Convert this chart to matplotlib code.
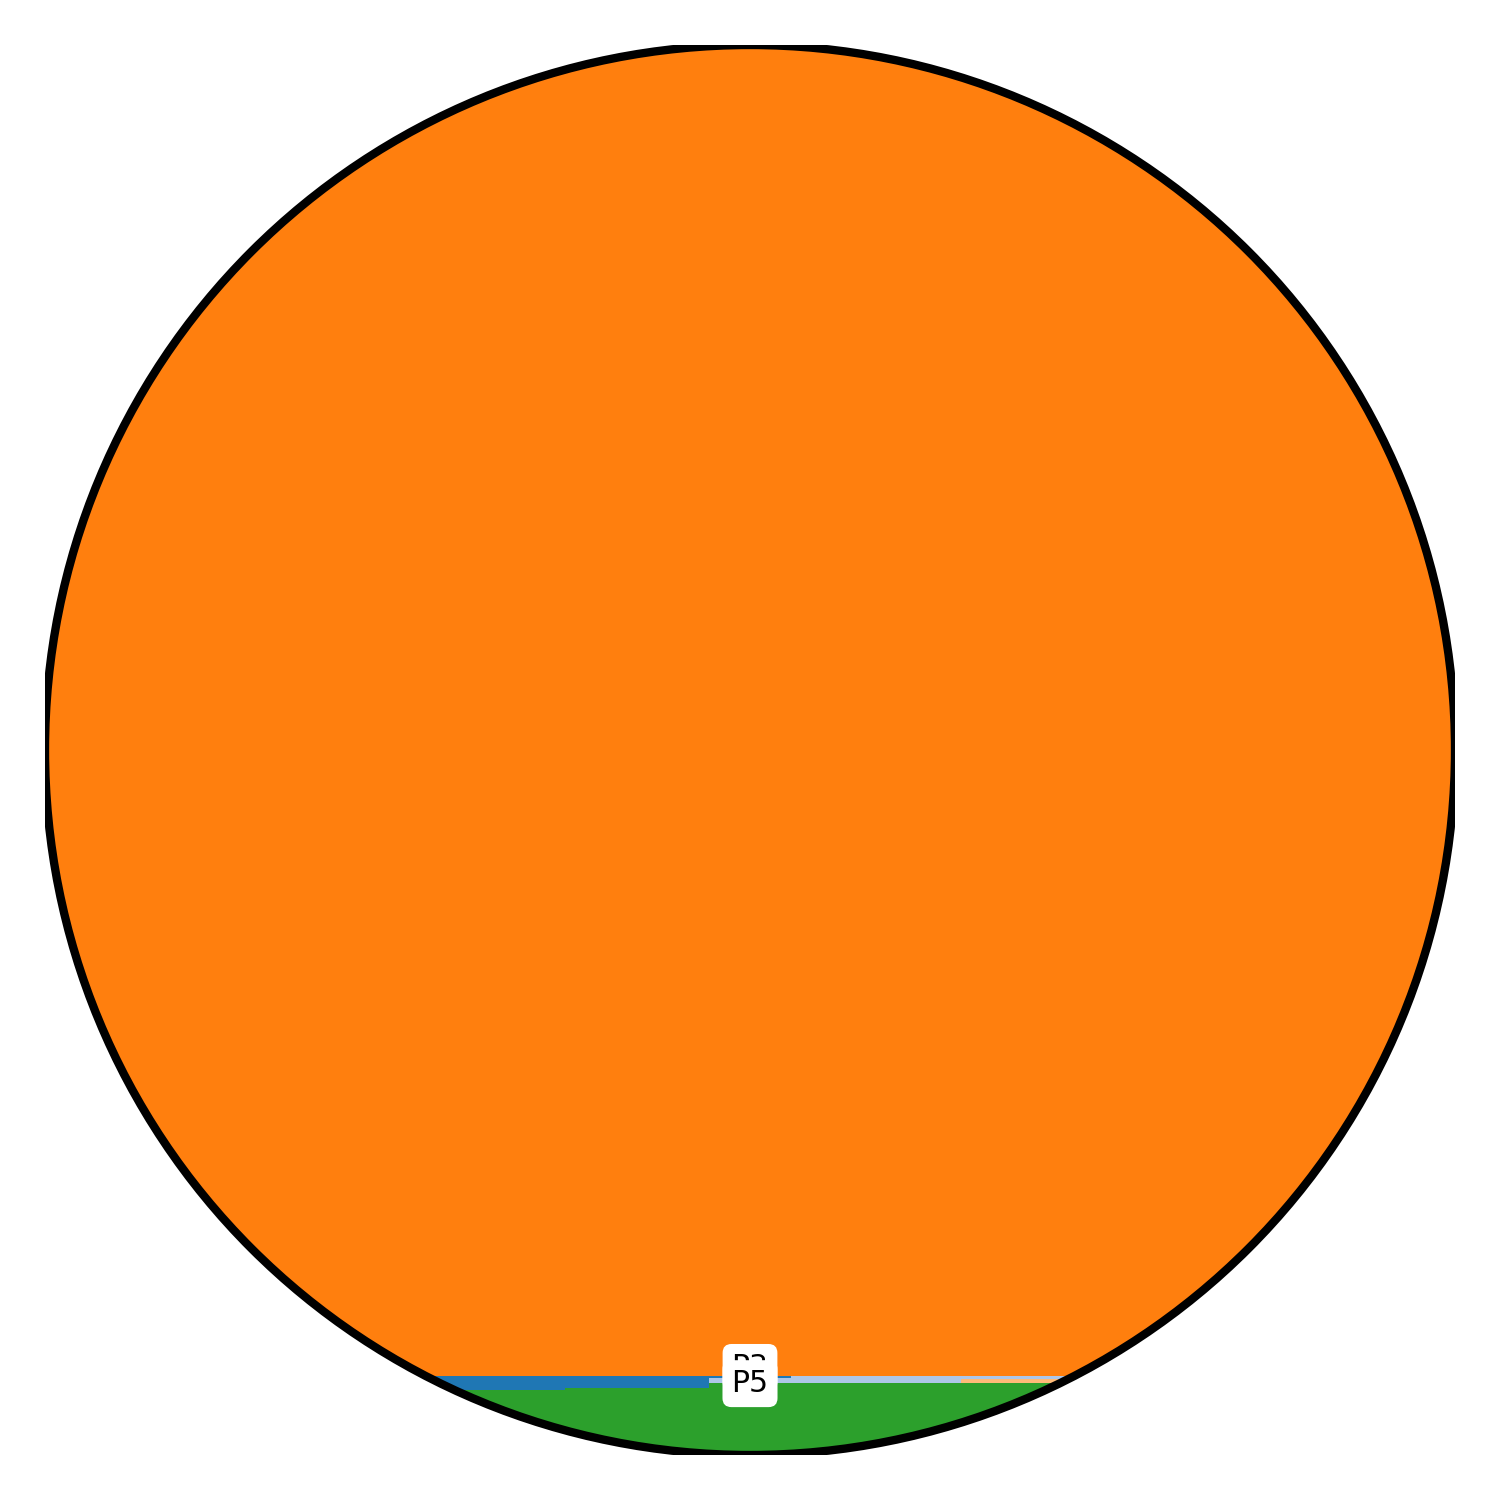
import numpy as np
import matplotlib
matplotlib.use('Agg')
import matplotlib.pyplot as plt
from matplotlib.patches import Circle

# column edges across the disc (data units, disc radius = 1)
col_edges = [-1.0, -0.262, -0.058, 0.058, 0.299, 1.0]

# layer thickness per column, stacked from the bottom of the disc upward
layers = ['P5', 'P4', 'P2', 'P1', 'P3']
P5 = [0.0920, 0.0955, 0.1017, 0.1021, 0.1021]
P4 = [0.0, 0.0, 0.0, 0.0, 0.0052]
P2 = [0.0, 0.0, 0.0071, 0.0104, 0.0051]
P1 = [0.0205, 0.0170, 0.0037, 0.0, 0.0]
P3 = [1.8875, 1.8875, 1.8875, 1.8875, 1.8876]

colors = {'P1': '#1f77b4', 'P2': '#aec7e8', 'P3': '#ff7f0e',
          'P4': '#ffbb78', 'P5': '#2ca02c'}

# labels shown (only the big ones) and their heights
label_names = ['P3', 'P5']
label_y = [-0.8758, -0.8988]

values = {'P1': P1, 'P2': P2, 'P3': P3, 'P4': P4, 'P5': P5}

fig = plt.figure(figsize=(15, 15), dpi=100)
ax = fig.add_axes([0.03, 0.03, 0.94, 0.94])
ax.set_xlim(-1, 1); ax.set_ylim(-1, 1)
ax.set_aspect('equal')
ax.axis('off')

disc = Circle((0, 0), 1.0, transform=ax.transData, facecolor='none')

edges = np.array(col_edges)
left = edges[:-1]; width = np.diff(edges)
bottom = np.full(len(left), -1.0)
for name in layers:
    h = np.array(values[name])
    bars = ax.bar(left, h, width=width, bottom=bottom, align='edge',
                  color=colors[name], linewidth=0)
    for b in bars:
        b.set_clip_path(disc)
    bottom = bottom + h

ax.add_patch(Circle((0, 0), 1.0, facecolor='none', edgecolor='black', linewidth=6, zorder=5))

for name, y in zip(label_names, label_y):
    ax.text(0, y, name, ha='center', va='center', fontsize=21.5, zorder=6,
            bbox=dict(boxstyle='round,pad=0.3', fc='white', ec='none'))

fig.savefig('out.png', dpi=100)
